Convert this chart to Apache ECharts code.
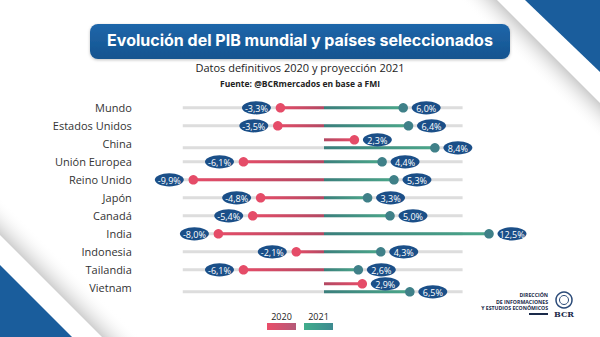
<!DOCTYPE html>
<html><head><meta charset="utf-8">
<script src="https://cdn.jsdelivr.net/npm/echarts@6/dist/echarts.min.js"></script>
<style>html,body{margin:0;padding:0;background:#fff}#c{width:600px;height:337px}</style>
</head><body><div id="c"></div>
<script>
const countries = ['Mundo','Estados Unidos','China','Unión Europea','Reino Unido','Japón','Canadá','India','Indonesia','Tailandia','Vietnam'];
const gdp2020 = [-3.3,-3.5,2.3,-6.1,-9.9,-4.8,-5.4,-8.0,-2.1,-6.1,2.9];
const gdp2021 = [6.0,6.4,8.4,4.4,5.3,3.3,5.0,12.5,4.3,2.6,6.5];
const years = ['2020','2021'];
const titleText = 'Evolución del PIB mundial y países seleccionados';
const subtitleText = 'Datos definitivos 2020 y proyección 2021';
const sourceText = 'Fuente: @BCRmercados en base a FMI';
const logoLines = ['DIRECCIÓN','DE INFORMACIONES','Y ESTUDIOS ECONÓMICOS'];

const chart = echarts.init(document.getElementById('c'), null, {renderer:'svg'});
const fmt = v => v.toFixed(1).replace('.', ',') + '%';
const RED='#e54c68', RED_D='#b34862', GRN='#4ba78a', GRN_D='#3a7f7c', DOT_G='#3f8088', NAVY='#1b4f88';
const TRACK_MIN=-10.7, TRACK_MAX=10.5;
const FONT='"Open Sans", "Noto Sans", sans-serif';

function hgrad(xa, xb, ca, cb){
  return {type:'linear', x:xa, y:0, x2:xb, y2:0, global:true,
    colorStops:[{offset:0,color:ca},{offset:1,color:cb}]};
}
function pill(cx, cy, v){
  const t = fmt(v);
  const rx = t.length > 5 ? 16 : 14.5;
  return [
    {type:'ellipse', shape:{cx:cx, cy:cy, rx:rx, ry:6.6}, style:{fill:NAVY}},
    {type:'text', style:{text:t, x:cx, y:cy+0.5, fill:'#fff', font:'9px '+FONT, align:'center', verticalAlign:'middle'}}
  ];
}
function renderItem(params, api){
  const i = api.value(0), v20 = api.value(1), v21 = api.value(2);
  const p0 = api.coord([0, i]);
  const x0 = p0[0], yc = p0[1];
  const split = v20 > 0;
  const y = split ? yc + 4 : yc;
  const y20 = split ? yc - 4 : yc;
  const xs = api.coord([TRACK_MIN, i])[0], xe = api.coord([TRACK_MAX, i])[0];
  const x20 = api.coord([v20, i])[0], x21 = api.coord([v21, i])[0];
  let ch = [];
  ch.push({type:'line', shape:{x1:xs,y1:y,x2:xe,y2:y}, style:{stroke:'#dddddd', lineWidth:3}});
  ch.push({type:'line', shape:{x1:x0,y1:y20,x2:x20,y2:y20}, style:{stroke:hgrad(x0,x20,RED_D,RED), lineWidth:3}});
  ch.push({type:'line', shape:{x1:x0,y1:y,x2:x21,y2:y}, style:{stroke:hgrad(x0,x21,GRN_D,GRN), lineWidth:3}});
  ch.push({type:'circle', shape:{cx:x20, cy:y20, r:4.8}, style:{fill:RED}});
  ch.push({type:'circle', shape:{cx:x21, cy:y, r:4.8}, style:{fill:DOT_G}});
  ch = ch.concat(pill(x20 + (v20 < 0 ? -24 : 23), y20, v20));
  ch = ch.concat(pill(x21 + (v21 < 0 ? -24 : 23), y, v21));
  return {type:'group', children:ch};
}

const legendGraphics = [];
years.forEach((yr, k) => {
  const x = 267 + k*37;
  legendGraphics.push({type:'text', style:{text:yr, x:x+14.5, y:316, fill:'#222', font:'9px '+FONT, align:'center', verticalAlign:'middle'}});
  legendGraphics.push({type:'rect', shape:{x:x, y:323, width:29, height:7},
    style:{fill:{type:'linear',x:0,y:0,x2:1,y2:0,colorStops: k===0 ?
      [{offset:0,color:'#ea4d69'},{offset:1,color:'#b45a78'}] :
      [{offset:0,color:'#40ad8c'},{offset:1,color:'#3d8a90'}]}}});
});
const logoGraphics = logoLines.map((t, k) => ({type:'text',
  style:{text:t, x:548, y:295 + k*6.5, fill:'#1a2a4a', font:'bold 5.2px '+FONT, align:'right', verticalAlign:'middle'}}));

const option = {
  backgroundColor:'#fff',
  animation:false,
  grid:{left:182.76, width:307.56, top:98.8, height:198},
  xAxis:{type:'value', min:-10.7, max:12.6, show:false},
  yAxis:{type:'category', data:countries, inverse:true,
    axisLine:{show:false}, axisTick:{show:false}, splitLine:{show:false},
    axisLabel:{margin:51, fontSize:11, color:'#333', fontFamily:FONT}},
  graphic:[
    {type:'polygon', silent:true, z:-10, shape:{points:[[497,0],[600,103],[600,140],[460,0]]},
      style:{fill:{type:'linear', x:548, y:52, x2:530, y2:70, global:true,
        colorStops:[{offset:0,color:'#cfcfcf'},{offset:1,color:'rgba(255,255,255,0)'}]}}},
    {type:'polygon', silent:true, z:-9, shape:{points:[[525,0],[600,0],[600,72]]}, style:{fill:'#1a5d9c'}},
    {type:'polygon', silent:true, z:-10, shape:{points:[[0,235],[102,337],[140,337],[0,197]]},
      style:{fill:{type:'linear', x:51, y:286, x2:70, y2:267, global:true,
        colorStops:[{offset:0,color:'#cfcfcf'},{offset:1,color:'rgba(255,255,255,0)'}]}}},
    {type:'polygon', silent:true, z:-9, shape:{points:[[0,265],[0,337],[72,337]]}, style:{fill:'#1a5d9c'}},
    {type:'rect', shape:{x:90, y:24, width:420, height:35, r:8},
      style:{fill:{type:'linear',x:0,y:0,x2:0,y2:1,colorStops:[{offset:0,color:'#1f66aa'},{offset:1,color:'#14548f'}]},
        shadowBlur:3, shadowColor:'rgba(0,0,0,0.25)', shadowOffsetY:1}},
    {type:'text', left:'center', top:32, style:{text:titleText, fill:'#fff', font:'bold 16px Inter, "Noto Sans", sans-serif'}},
    {type:'text', left:'center', top:62, style:{text:subtitleText, fill:'#222', font:'11px '+FONT}},
    {type:'text', left:'center', top:79, style:{text:sourceText, fill:'#222', font:'bold 8.5px '+FONT}},
    ...legendGraphics,
    ...logoGraphics,
    {type:'rect', shape:{x:529, y:313, width:19, height:2}, style:{fill:'#1a2a4a'}},
    {type:'circle', shape:{cx:564, cy:300, r:8}, style:{fill:'#fff', stroke:'#2a4a78', lineWidth:1.5}},
    {type:'circle', shape:{cx:564, cy:300, r:4.5}, style:{fill:'none', stroke:'#2a4a78', lineWidth:1}},
    {type:'text', style:{text:'BCR', x:564, y:314, fill:'#1a2a4a', font:'bold 8px "DejaVu Serif", serif', align:'center', verticalAlign:'middle'}}
  ],
  series:[{
    type:'custom',
    renderItem:renderItem,
    encode:{x:[1,2], y:0},
    data: countries.map((c, i) => [i, gdp2020[i], gdp2021[i]])
  }]
};
chart.setOption(option);
</script>
</body></html>
